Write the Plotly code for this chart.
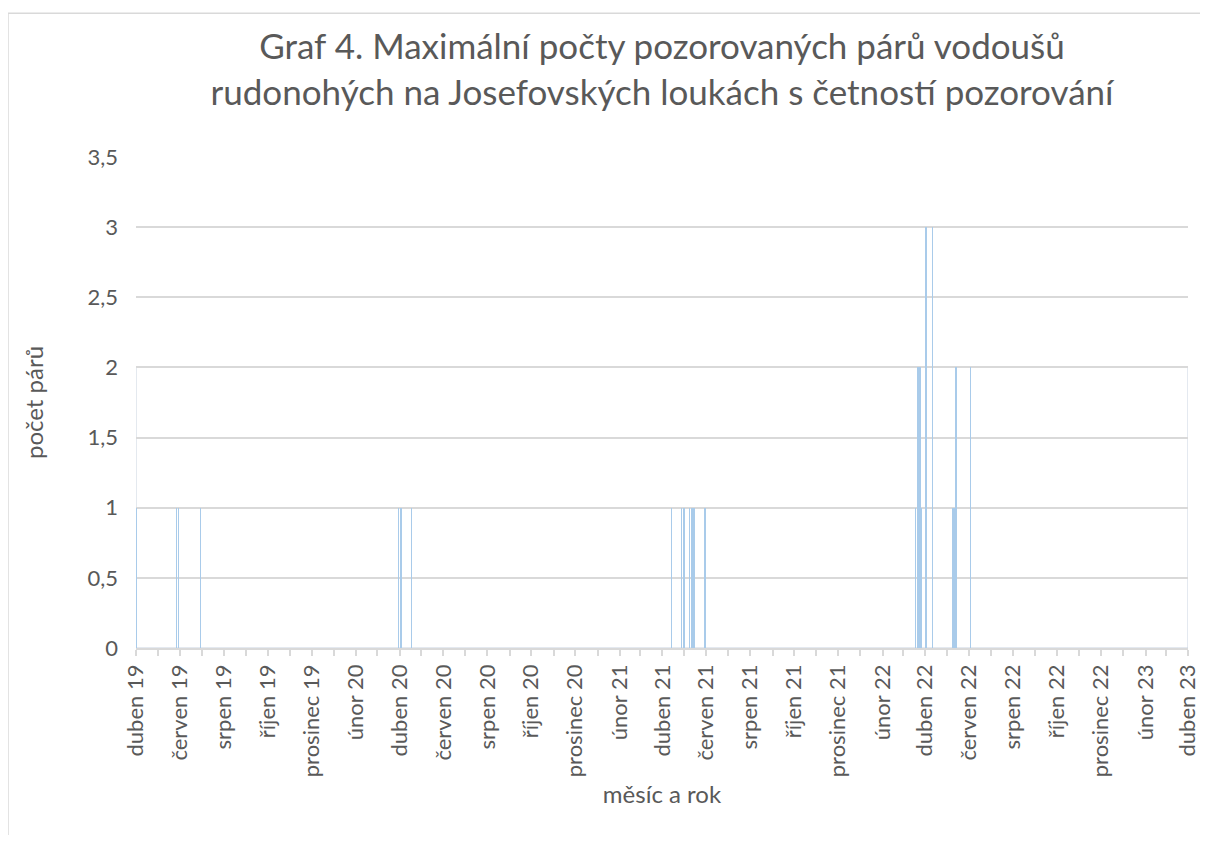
import plotly.graph_objects as go
import pandas as pd

# max. pocet paru pro jednotliva pozorovani
obs_dates = [
    "2019-04-01", "2019-05-27", "2019-05-30", "2019-06-30",
    "2020-03-31", "2020-04-03", "2020-04-18",
    "2021-04-14", "2021-04-28", "2021-05-01", "2021-05-09", "2021-05-12",
    "2021-05-15", "2021-05-30",
    "2022-03-19", "2022-03-22", "2022-03-25", "2022-03-27", "2022-04-01",
    "2022-04-03", "2022-04-11", "2022-05-09", "2022-05-11", "2022-05-14",
    "2022-06-03",
]
pair_counts = [
    1, 1, 1, 1,
    1, 1, 1,
    1, 1, 1, 1, 1,
    1, 1,
    1, 2, 2, 1, 3,
    3, 3, 1, 1, 2,
    2,
]

month_names = ["leden", "únor", "březen", "duben", "květen", "červen",
               "červenec", "srpen", "září", "říjen", "listopad", "prosinec"]
x_start, x_end = "2019-04-01", "2023-04-01"
y_max = 3.5
box_top = 2

tick_dates = pd.date_range(x_start, x_end, freq="2MS")
tick_text = ["%s %02d" % (month_names[d.month - 1], d.year % 100) for d in tick_dates]

FONT = "Lato, 'Open Sans', sans-serif"
GREY = "#595959"
DAY_MS = 86400000

fig = go.Figure()
fig.add_trace(go.Bar(
    x=pd.to_datetime(obs_dates),
    y=pair_counts,
    width=0.5 * DAY_MS,
    marker_color="#A9CBEA",
    marker_line_width=0,
    name="počet párů",
))

# tenky ramecek 0-2 pres cele obdobi
fig.add_shape(type="rect", xref="x", yref="y",
              x0=x_start, x1=x_end, y0=0, y1=box_top,
              line=dict(color="#C9D3E0", width=1), layer="below")

# okraj grafu
fig.add_shape(type="rect", xref="paper", yref="paper",
              x0=-0.1217, x1=1.03, y0=-0.42, y1=1.293,
              line=dict(color="#D9D9D9", width=1.5))

# stranka ma 8px okraj kolem, proto 1192x827
fig.update_layout(
    width=1192, height=827,
    margin=dict(l=128, r=12, t=149, b=187, autoexpand=False),
    paper_bgcolor="white", plot_bgcolor="white",
    font=dict(family=FONT, color=GREY, size=22),
    separators=", ",
    showlegend=False,
    bargap=0,
    title=dict(
        text="Graf 4. Maximální počty pozorovaných párů vodoušů<br>"
             "rudonohých na Josefovských loukách s četností pozorování",
        x=0.5, xanchor="center", xref="paper",
        y=0.938, yanchor="middle", yref="container",
        font=dict(size=35, color=GREY, family=FONT),
    ),
)

fig.update_xaxes(
    type="date",
    range=[x_start, x_end],
    tickmode="array",
    tickvals=tick_dates,
    ticktext=tick_text,
    tickangle=-90,
    ticklabeloverflow="allow",
    automargin=False,
    ticks="outside", ticklen=6, tickcolor="#D9D9D9", tickwidth=1.5,
    minor=dict(dtick="M1", ticks="outside", ticklen=6,
               tickcolor="#D9D9D9", tickwidth=1.5, showgrid=False),
    showgrid=False,
    showline=True, linecolor="#D9D9D9", linewidth=1.5,
    tickfont=dict(size=22, color=GREY),
    title=dict(text="měsíc a rok", font=dict(size=24, color=GREY), standoff=10),
)

fig.update_yaxes(
    range=[0, y_max],
    dtick=0.5,
    showgrid=True, gridcolor="#D9D9D9", gridwidth=1.5,
    zeroline=False,
    automargin=False,
    ticks="", ticklabelstandoff=17,
    tickfont=dict(size=22, color=GREY),
    title=dict(text="počet párů", font=dict(size=24, color=GREY), standoff=37),
)

fig.write_html("out.html")
